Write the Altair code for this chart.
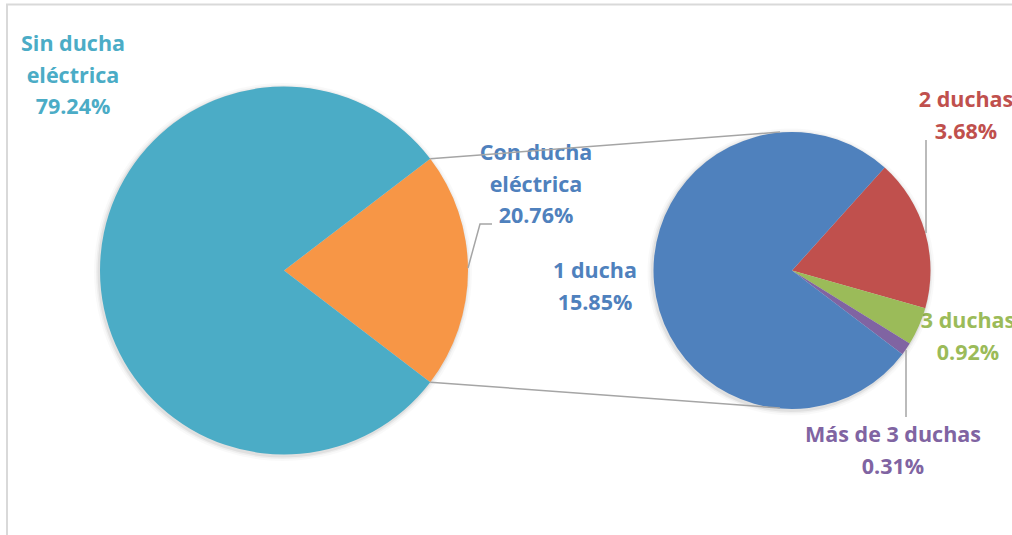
import math
import altair as alt
import pandas as pd

# ---- data ----
main_labels = ["Con ducha\neléctrica", "Sin ducha\neléctrica"]
main_values = [20.76, 79.24]
main_colors = ["#F79646", "#4BACC6"]

sub_labels = ["2 duchas", "3 duchas", "Más de 3 duchas", "1 ducha"]
sub_values = [3.68, 0.92, 0.31, 15.85]
sub_colors = ["#C0504D", "#9BBB59", "#8064A2", "#4F81BD"]

# ---- layout ----
W, H = 1012, 535
C1 = (284, 270.5); R1 = 184
C2 = (792, 270.5); R2 = 138.5
sub_start_deg = 42.0

tot_main = sum(main_values)
main_start = math.pi / 2 - (main_values[0] / tot_main) * math.pi
sub_start = math.radians(sub_start_deg)

main_df = pd.DataFrame({"label": main_labels, "value": main_values,
                        "color": main_colors, "order": [0, 1]})
sub_df = pd.DataFrame({"label": sub_labels, "value": sub_values,
                       "color": sub_colors, "order": [0, 1, 2, 3]})


def theta_enc(start):
    return alt.Theta("value:Q", stack=True,
                     scale=alt.Scale(range=[start, start + 2 * math.pi]))


def pie(df, center, r, start):
    return alt.Chart(df).mark_arc(outerRadius=r, stroke=None).encode(
        theta=theta_enc(start),
        color=alt.Color("color:N", scale=None),
        order=alt.Order("order:Q"),
        x=alt.value(center[0]), y=alt.value(center[1]))


shadows = []
for extra, op in [(5, 0.025), (3, 0.04), (1.5, 0.06)]:
    for df, c, r, s in [(main_df, C1, R1, main_start), (sub_df, C2, R2, sub_start)]:
        shadows.append(alt.Chart(df).mark_arc(outerRadius=r + extra, color="#000000",
                                               opacity=op).encode(
            theta=theta_enc(s),
            order=alt.Order("order:Q"),
            x=alt.value(c[0] - 1), y=alt.value(c[1] + 1.5)))

# connector lines from the split slice edges to the top/bottom of the secondary pie
a0 = main_start
a1 = main_start + (main_values[0] / tot_main) * 2 * math.pi
p_top = (C1[0] + R1 * math.sin(a0), C1[1] - R1 * math.cos(a0))
p_bot = (C1[0] + R1 * math.sin(a1), C1[1] - R1 * math.cos(a1))
conn_df = pd.DataFrame({
    "x": [p_top[0], p_bot[0]], "y": [p_top[1], p_bot[1]],
    "x2": [C2[0] - 12, C2[0] - 12], "y2": [C2[1] - R2, C2[1] + R2 - 1],
})
connectors = alt.Chart(conn_df).mark_rule(color="#A5A5A5", strokeWidth=1.5).encode(
    x=alt.X("x:Q", scale=None), y=alt.Y("y:Q", scale=None),
    x2="x2:Q", y2="y2:Q")

# leader lines
lead_df = pd.DataFrame({
    "seg": [0, 0, 0, 1, 1, 2, 2],
    "i": [0, 1, 2, 0, 1, 0, 1],
    "x": [468, 480, 492, 926, 926, 906, 906],
    "y": [268, 224, 224, 140, 233, 350, 417],
})
leaders = alt.Chart(lead_df).mark_line(color="#A5A5A5", strokeWidth=1.5).encode(
    x=alt.X("x:Q", scale=None), y=alt.Y("y:Q", scale=None),
    detail="seg:N", order="i:Q")

# labels
lab_text = ["Sin ducha\neléctrica\n79.24%", "Con ducha\neléctrica\n20.76%",
            "1 ducha\n15.85%", "2 duchas\n3.68%", "3 duchas\n0.92%",
            "Más de 3 duchas\n0.31%"]
lab_color = ["#4BACC6", "#4F81BD", "#4F81BD", "#C0504D", "#9BBB59", "#8064A2"]
lab_x = [73, 536, 595, 966, 968, 893]
lab_y = [45, 154, 272, 101, 322, 436]
lab_df = pd.DataFrame({"text": lab_text, "color": lab_color, "x": lab_x, "y": lab_y})
labels = alt.Chart(lab_df).mark_text(
    font="Open Sans", fontSize=21.5, fontWeight="bold", lineBreak="\n", lineHeight=31.5,
    align="center", baseline="middle").encode(
    x=alt.X("x:Q", scale=None), y=alt.Y("y:Q", scale=None),
    text="text:N", color=alt.Color("color:N", scale=None))

border = alt.Chart(pd.DataFrame({"a": [0]})).mark_rect(
    fill="transparent", stroke="#D9D9D9", strokeWidth=2).encode(
    x=alt.value(7), y=alt.value(4.5), x2=alt.value(1040), y2=alt.value(560))

chart = alt.layer(
    border, labels, *shadows,
    pie(main_df, C1, R1, main_start), pie(sub_df, C2, R2, sub_start),
    connectors, leaders,
).resolve_scale(theta="independent").properties(
    width=W, height=H, autosize=alt.AutoSizeParams(type="none"),
    padding=0, background="white").configure_view(stroke=None)

chart.save("out.html", embed_options={"renderer": "svg", "actions": False})
